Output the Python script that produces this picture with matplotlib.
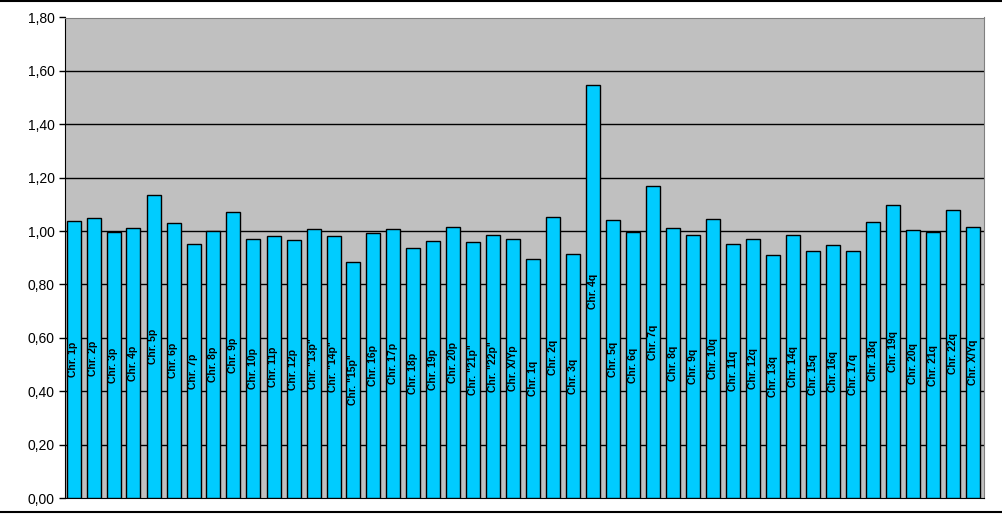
import matplotlib.pyplot as plt
from matplotlib.lines import Line2D

# labels des bras chromosomiques
labels = ['Chr. 1p', 'Chr. 2p', 'Chr. 3p', 'Chr. 4p', 'Chr. 5p', 'Chr. 6p', 'Chr. 7p',
          'Chr. 8p', 'Chr. 9p', 'Chr. 10p', 'Chr. 11p', 'Chr. 12p', 'Chr. "13p"',
          'Chr. "14p"', 'Chr. "15p"', 'Chr. 16p', 'Chr. 17p', 'Chr. 18p', 'Chr. 19p',
          'Chr. 20p', 'Chr. "21p"', 'Chr. "22p"', 'Chr. X/Yp',
          'Chr. 1q', 'Chr. 2q', 'Chr. 3q', 'Chr. 4q', 'Chr. 5q', 'Chr. 6q', 'Chr. 7q',
          'Chr. 8q', 'Chr. 9q', 'Chr. 10q', 'Chr. 11q', 'Chr. 12q', 'Chr. 13q',
          'Chr. 14q', 'Chr. 15q', 'Chr. 16q', 'Chr. 17q', 'Chr. 18q', 'Chr. 19q',
          'Chr. 20q', 'Chr. 21q', 'Chr. 22q', 'Chr. X/Yq']

values = [1.037, 1.049, 0.996, 1.011, 1.135, 1.030, 0.951, 1.000, 1.071, 0.970,
          0.981, 0.966, 1.007, 0.981, 0.884, 0.992, 1.007, 0.936, 0.962, 1.015,
          0.959, 0.985, 0.970,
          0.895, 1.052, 0.914, 1.548, 1.041, 0.996, 1.169, 1.011, 0.985, 1.045,
          0.951, 0.970, 0.910, 0.985, 0.925, 0.947, 0.925, 1.034, 1.098, 1.004,
          0.996, 1.079, 1.015]

yticks = [0.0, 0.2, 0.4, 0.6, 0.8, 1.0, 1.2, 1.4, 1.6, 1.8]

plt.rcParams['font.family'] = ['Liberation Sans', 'DejaVu Sans']

fig = plt.figure(figsize=(10.02, 5.15), dpi=100)
ax = fig.add_axes([64.5 / 1002, 17 / 515, 920 / 1002, 480.5 / 515])
ax.set_facecolor('#C0C0C0')

x = list(range(len(values)))
ax.bar(x, values, width=0.7, color='#00CCFF', edgecolor='black', linewidth=1.0, zorder=3)

for i, v in enumerate(values):
    ax.text(i, v / 2, labels[i], rotation=90, ha='center', va='center',
            fontsize=7.5, fontweight='bold', color='black', zorder=4)

for t in yticks[1:-1]:
    ax.axhline(t, color='black', linewidth=1.0, zorder=1)

ax.set_xlim(-0.45, 45.55)
ax.set_ylim(0, 1.8)
ax.set_yticks(yticks)
ax.set_yticklabels([f'{t:.2f}'.replace('.', ',') for t in yticks], fontsize=10)
ax.set_xticks([])
ax.tick_params(axis='y', direction='out', length=4, width=1, color='black', pad=3)

ax.spines['left'].set_color('black')
ax.spines['bottom'].set_color('black')
ax.spines['top'].set_color('#808080')
ax.spines['right'].set_color('#808080')

# cadre du graphique
fig.add_artist(Line2D([0, 1], [0.999, 0.999], color='black', linewidth=1.5))
fig.add_artist(Line2D([0, 1], [3 / 515, 3 / 515], color='black', linewidth=1.5))

fig.savefig('out.png', dpi=100)
